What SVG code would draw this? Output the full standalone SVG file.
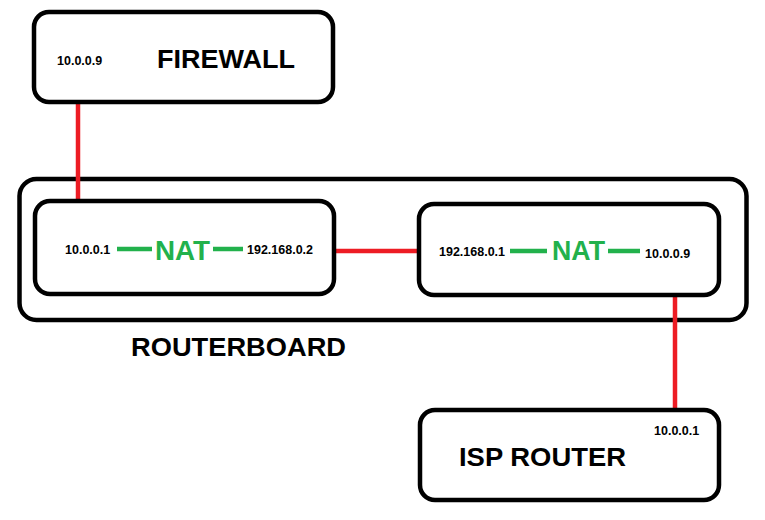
<svg xmlns="http://www.w3.org/2000/svg" width="765" height="520" viewBox="0 0 765 520">
<style>
.box{fill:#fff;stroke:#000;stroke-width:4.5}
.link{stroke:#ed1c24;stroke-width:4.5;fill:none}
.nl{stroke:#22b14c;stroke-width:4.5;fill:none}
.ip{font-family:"Liberation Sans",Arial,sans-serif;font-weight:bold;font-size:12.5px;fill:#000}
.big{font-family:"Liberation Sans",Arial,sans-serif;font-weight:bold;font-size:26.5px;fill:#000}
.nat{font-family:"Liberation Sans",Arial,sans-serif;font-weight:bold;font-size:27px;fill:#22b14c}
</style>
<rect width="765" height="520" fill="#fff"/>
<g id="routerboard">
<rect class="box" x="19.5" y="179" width="727" height="141" rx="17"/>
<text class="big" x="131" y="356" textLength="215" lengthAdjust="spacingAndGlyphs">ROUTERBOARD</text>
</g>
<g id="connectors">
<line class="link" x1="78" y1="103" x2="78" y2="200"/>
<line class="link" x1="335" y1="251" x2="419" y2="251"/>
<line class="link" x1="675" y1="296" x2="675" y2="409"/>
</g>
<g id="firewall">
<rect class="box" x="34" y="12" width="299" height="90" rx="15"/>
<text class="ip" x="57" y="65">10.0.0.9</text>
<text class="big" x="157" y="68" textLength="138" lengthAdjust="spacingAndGlyphs">FIREWALL</text>
</g>
<g id="nat1">
<rect class="box" x="35" y="201" width="299" height="93" rx="15"/>
<text class="ip" x="65" y="254">10.0.0.1</text>
<line class="nl" x1="117" y1="249" x2="152" y2="249"/>
<text class="nat" x="155" y="260" textLength="55" lengthAdjust="spacingAndGlyphs">NAT</text>
<line class="nl" x1="213" y1="249" x2="243" y2="249"/>
<text class="ip" x="247" y="254">192.168.0.2</text>
</g>
<g id="nat2">
<rect class="box" x="419" y="204" width="300" height="91" rx="15"/>
<text class="ip" x="439" y="256">192.168.0.1</text>
<line class="nl" x1="510" y1="251" x2="547" y2="251"/>
<text class="nat" x="552" y="260" textLength="53" lengthAdjust="spacingAndGlyphs">NAT</text>
<line class="nl" x1="608" y1="251" x2="640" y2="251"/>
<text class="ip" x="645" y="258">10.0.0.9</text>
</g>
<g id="isp">
<rect class="box" x="420" y="410" width="299" height="90" rx="15"/>
<text class="ip" x="654" y="435">10.0.0.1</text>
<text class="big" x="459" y="466" textLength="167" lengthAdjust="spacingAndGlyphs">ISP ROUTER</text>
</g>
</svg>
